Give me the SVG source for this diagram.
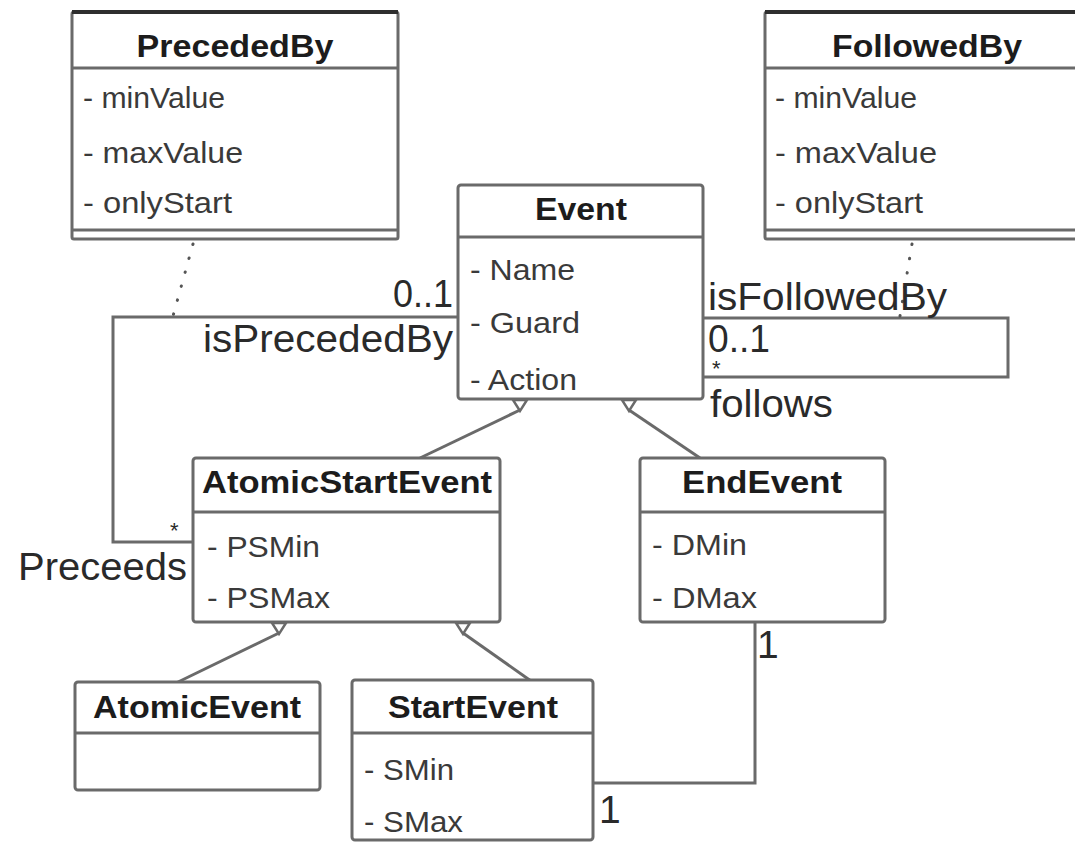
<svg xmlns="http://www.w3.org/2000/svg" width="1075" height="843" viewBox="0 0 1075 843">
<style>
.box{fill:#fff;stroke:#6a6a6a;stroke-width:3}
.div{stroke:#6a6a6a;stroke-width:3}
.top{stroke:#2e2e2e;stroke-width:4}
.title{font-family:"Liberation Sans",Arial,sans-serif;font-weight:bold;font-size:31px;fill:#1c1c1c}
.attr{font-family:"Liberation Sans",Arial,sans-serif;font-size:30px;fill:#3a3a3a}
.lbl{font-family:"Liberation Sans",Arial,sans-serif;font-size:39px;fill:#2a2a2a}
.star{font-family:"Liberation Sans",Arial,sans-serif;font-size:22px;fill:#2a2a2a}
.conn{fill:none;stroke:#6a6a6a;stroke-width:3}
.dot{fill:none;stroke:#555;stroke-width:3;stroke-linecap:round;stroke-dasharray:0.5 14}
.tri{fill:#fff;stroke:#6a6a6a;stroke-width:2.5}
</style>
<rect width="1075" height="843" fill="#fff"/>
<g id="connectors">
  <polyline class="conn" points="458,317 113,317 113,542 193,542"/>
  <polyline class="conn" points="703,318 1008,318 1008,377 703,377"/>
  <polyline class="conn" points="593,783 755,783 755,622"/>
  <line class="dot" x1="193" y1="244" x2="173" y2="316"/>
  <line class="dot" x1="912" y1="244" x2="900" y2="316"/>
  <line class="conn" x1="420" y1="458" x2="520" y2="410"/>
  <line class="conn" x1="700" y1="458" x2="629" y2="410"/>
  <line class="conn" x1="176" y1="683" x2="279" y2="633"/>
  <line class="conn" x1="531" y1="681" x2="463" y2="633"/>
  <text class="lbl" x="393" y="307" textLength="60" lengthAdjust="spacingAndGlyphs">0..1</text>
  <text class="lbl" x="203" y="352" textLength="250" lengthAdjust="spacingAndGlyphs">isPrecededBy</text>
  <text class="star" x="170" y="538">*</text>
  <text class="lbl" x="18" y="580" textLength="169" lengthAdjust="spacingAndGlyphs">Preceeds</text>
  <text class="lbl" x="708" y="310" textLength="239" lengthAdjust="spacingAndGlyphs">isFollowedBy</text>
  <text class="lbl" x="708" y="352" font-size="36" textLength="62" lengthAdjust="spacingAndGlyphs">0..1</text>
  <text class="star" x="712" y="376" font-size="15">*</text>
  <text class="lbl" x="710" y="417" textLength="123" lengthAdjust="spacingAndGlyphs">follows</text>
  <text class="lbl" x="757" y="658" font-size="36">1</text>
  <text class="lbl" x="599" y="823" font-size="36">1</text>
</g>
<g id="PrecededBy">
  <rect class="box" x="72" y="12" width="326" height="227" rx="2"/>
  <line class="top" x1="72" y1="12" x2="398" y2="12"/>
  <line class="div" x1="72" y1="68" x2="398" y2="68"/>
  <line class="div" x1="72" y1="230" x2="398" y2="230"/>
  <text class="title" x="235" y="57" text-anchor="middle" textLength="197" lengthAdjust="spacingAndGlyphs">PrecededBy</text>
  <text class="attr" x="83" y="108" textLength="142" lengthAdjust="spacingAndGlyphs">- minValue</text>
  <text class="attr" x="83" y="163" textLength="160" lengthAdjust="spacingAndGlyphs">- maxValue</text>
  <text class="attr" x="83" y="213" textLength="149" lengthAdjust="spacingAndGlyphs">- onlyStart</text>
</g>
<g id="FollowedBy">
  <rect class="box" x="765" y="12" width="330" height="227" rx="2"/>
  <line class="top" x1="765" y1="12" x2="1095" y2="12"/>
  <line class="div" x1="765" y1="68" x2="1095" y2="68"/>
  <line class="div" x1="765" y1="230" x2="1095" y2="230"/>
  <text class="title" x="832" y="57" textLength="190" lengthAdjust="spacingAndGlyphs">FollowedBy</text>
  <text class="attr" x="775" y="108" textLength="142" lengthAdjust="spacingAndGlyphs">- minValue</text>
  <text class="attr" x="775" y="163" textLength="162" lengthAdjust="spacingAndGlyphs">- maxValue</text>
  <text class="attr" x="775" y="213" textLength="148" lengthAdjust="spacingAndGlyphs">- onlyStart</text>
</g>
<g id="Event">
  <rect class="box" x="458" y="185" width="245" height="214" rx="3"/>
  <line class="div" x1="458" y1="237" x2="703" y2="237"/>
  <text class="title" x="581" y="220" text-anchor="middle" textLength="92" lengthAdjust="spacingAndGlyphs">Event</text>
  <text class="attr" x="470" y="280" textLength="105" lengthAdjust="spacingAndGlyphs">- Name</text>
  <text class="attr" x="470" y="333" textLength="110" lengthAdjust="spacingAndGlyphs">- Guard</text>
  <text class="attr" x="470" y="390" textLength="107" lengthAdjust="spacingAndGlyphs">- Action</text>
  <polygon class="tri" points="513,400 527,400 520,411"/>
  <polygon class="tri" points="622,400 636,400 629,411"/>
</g>
<g id="AtomicStartEvent">
  <rect class="box" x="193" y="458" width="307" height="164" rx="3"/>
  <line class="div" x1="193" y1="512" x2="500" y2="512"/>
  <text class="title" x="202" y="493" textLength="290" lengthAdjust="spacingAndGlyphs">AtomicStartEvent</text>
  <text class="attr" x="207" y="557" textLength="113" lengthAdjust="spacingAndGlyphs">- PSMin</text>
  <text class="attr" x="207" y="608" textLength="123" lengthAdjust="spacingAndGlyphs">- PSMax</text>
  <polygon class="tri" points="272,623 286,623 279,634"/>
  <polygon class="tri" points="456,623 470,623 463,634"/>
</g>
<g id="EndEvent">
  <rect class="box" x="640" y="458" width="245" height="164" rx="3"/>
  <line class="div" x1="640" y1="512" x2="885" y2="512"/>
  <text class="title" x="682" y="493" textLength="160" lengthAdjust="spacingAndGlyphs">EndEvent</text>
  <text class="attr" x="652" y="555" textLength="95" lengthAdjust="spacingAndGlyphs">- DMin</text>
  <text class="attr" x="652" y="608" textLength="105" lengthAdjust="spacingAndGlyphs">- DMax</text>
</g>
<g id="AtomicEvent">
  <rect class="box" x="75" y="682" width="245" height="108" rx="3"/>
  <line class="div" x1="75" y1="733" x2="320" y2="733"/>
  <text class="title" x="197" y="718" text-anchor="middle" textLength="208" lengthAdjust="spacingAndGlyphs">AtomicEvent</text>
</g>
<g id="StartEvent">
  <rect class="box" x="352" y="680" width="241" height="160" rx="3"/>
  <line class="div" x1="352" y1="733" x2="593" y2="733"/>
  <text class="title" x="473" y="718" text-anchor="middle" textLength="170" lengthAdjust="spacingAndGlyphs">StartEvent</text>
  <text class="attr" x="364" y="780" textLength="90" lengthAdjust="spacingAndGlyphs">- SMin</text>
  <text class="attr" x="364" y="832" textLength="99" lengthAdjust="spacingAndGlyphs">- SMax</text>
</g>
</svg>
